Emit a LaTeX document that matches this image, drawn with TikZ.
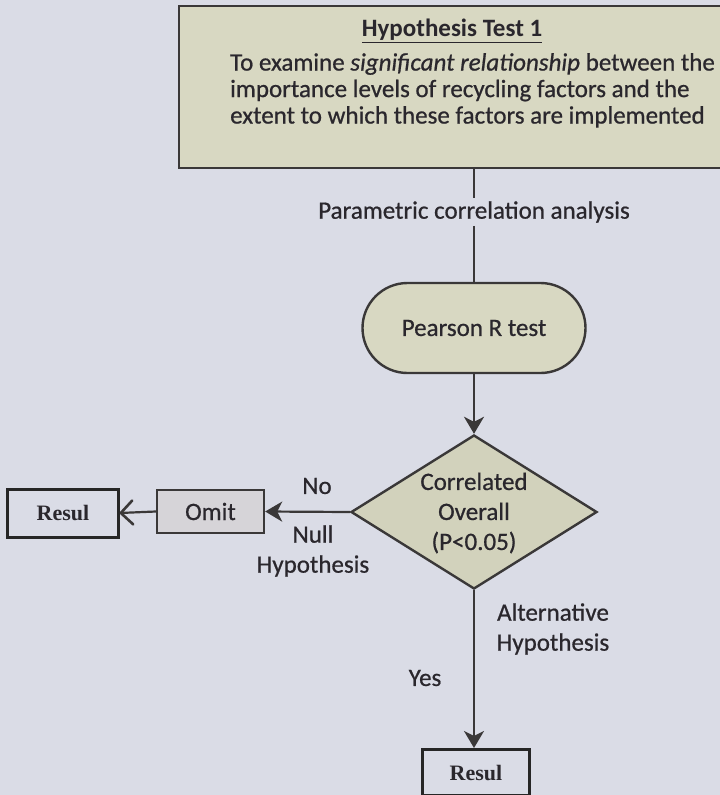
\documentclass[tikz,border=0pt]{standalone}
\usepackage{fontspec}
\setmainfont{Carlito}[UprightFeatures={FakeBold=0.7}, ItalicFeatures={FakeBold=0.7}]
\newfontfamily\resfont{Liberation Serif}
\usetikzlibrary{arrows.meta,shapes.geometric,shapes.misc}

\definecolor{paper}{HTML}{DADCE6}
\definecolor{ink}{HTML}{2A272D}
\definecolor{edge}{HTML}{3A3838}
\definecolor{khaki}{HTML}{D8D8C2}
\definecolor{greybox}{HTML}{D6D4D8}

\tikzset{
  lbl/.style={text=ink, font=\fontsize{25bp}{30bp}\selectfont, inner sep=0pt, align=center},
  flowbox/.style={draw=edge, line width=2.4bp, fill=khaki},
  resbox/.style={draw=black!85, line width=3bp, fill=paper, text=ink,
    font=\resfont\bfseries\fontsize{22bp}{24bp}\selectfont},
  link/.style={draw=edge, line width=2.2bp},
  solidtip/.style={-{Stealth[length=17bp,width=20bp,inset=5bp]}},
  barbtip/.style={-{Straight Barb[length=12bp,width=24bp,line width=2.6bp,round]}}
}

\begin{document}
\begin{tikzpicture}[x=1bp,y=-1bp]
  \useasboundingbox (0,0) rectangle (720,795);
  \clip (0,0) rectangle (720,795);
  \fill[paper] (0,0) rectangle (720,795);

  % aim of the test
  \node[flowbox, anchor=north west, minimum width=550bp, minimum height=162bp] (hyp) at (178,5) {};
  \node[lbl, font=\bfseries\fontsize{25bp}{27bp}\selectfont] (title) at (452,31) {\underline{Hypothesis Test 1}};
  \node[lbl, anchor=north west, align=left, font=\fontsize{25bp}{26.5bp}\selectfont] (aim) at (230,53)
    {To examine \textit{significant relationship} between the\\
     importance levels of recycling factors and the\\
     extent to which these factors are implemented};

  % method
  \node[lbl, fill=paper, inner ysep=3bp] (method) at (474,212) {Parametric correlation analysis};
  \node[flowbox, rounded rectangle, minimum width=223bp, minimum height=90bp, lbl, fill=khaki, draw=edge] (pearson) at (474,328) {Pearson R test};

  % decision
  \node[flowbox, diamond, shape aspect=1.6, inner sep=0pt, minimum width=246bp, minimum height=154bp,
        fill=khaki!97!black] (dec) at (474,512) {};
  \node[lbl] (dectext) at (474,513) {Correlated\\Overall\\(P<0.05)};

  % outcomes
  \node[draw=edge, line width=2.4bp, fill=greybox, minimum width=107bp, minimum height=43bp, lbl] (omit) at (210.5,511.5) {Omit};
  \node[resbox, minimum width=110bp, minimum height=48bp] (resleft) at (63,513) {Resul};
  \node[resbox, minimum width=107bp, minimum height=46bp, anchor=north] (resdown) at (476,748) {Resul};

  % connectors
  \draw[link] (hyp.south -| method.north) -- (method.north);
  \draw[link] (method.south) -- (pearson.north);
  \draw[link, solidtip] (pearson.south) -- (dec.north);
  \draw[link, solidtip] (dec.west) -- (omit.east);
  \draw[link, barbtip] (omit.west) -- (resleft.east);
  \draw[link, solidtip] (dec.south) -- (resdown.north -| dec.south);

  % branch labels
  \node[lbl] (no) at (317,486) {No};
  \node[lbl] (nullh) at (313,551) {Null\\Hypothesis};
  \node[lbl] (alth) at (553,629) {Alternative\\Hypothesis};
  \node[lbl] (yes) at (425,678) {Yes};
\end{tikzpicture}
\end{document}
